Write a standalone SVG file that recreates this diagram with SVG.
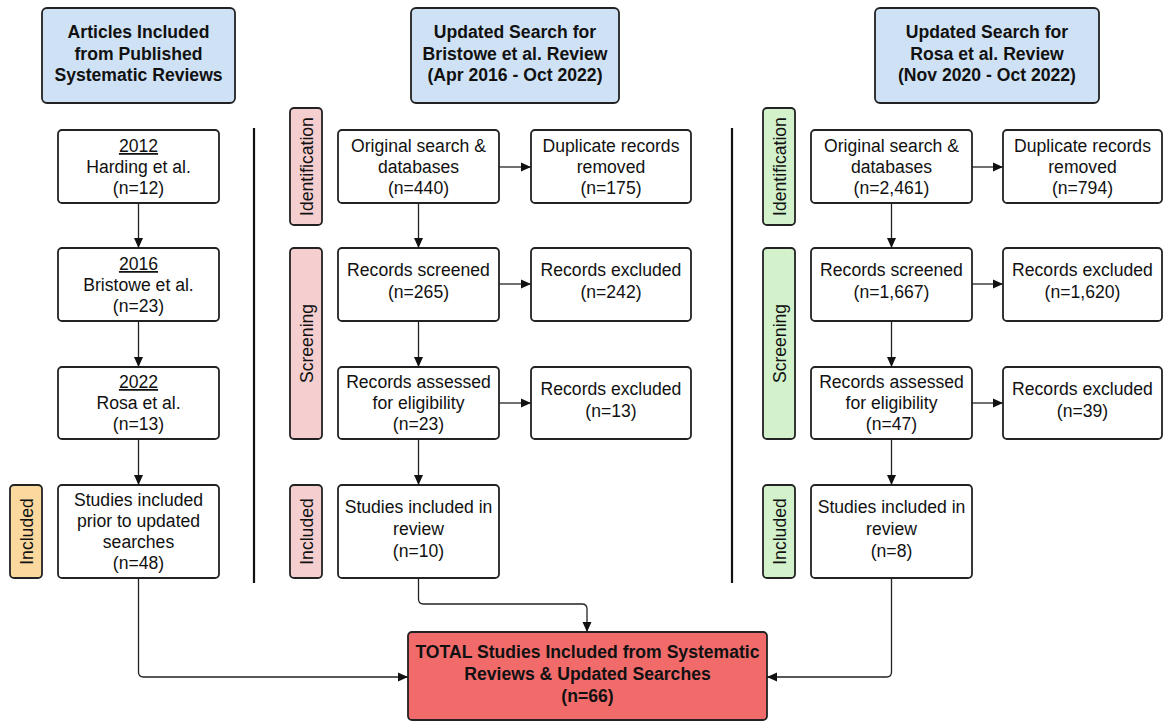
<svg xmlns="http://www.w3.org/2000/svg" width="1163" height="721" viewBox="0 0 1163 721">
<style>
text{font-family:"Liberation Sans",Arial,sans-serif;font-size:17.6px;fill:#111;text-anchor:middle}
.b{font-weight:bold}
.box{fill:#fff;stroke:#222;stroke-width:1.8}
.hdr{fill:#cfe2f5;stroke:#222;stroke-width:1.8}
.pink{fill:#f5cfcf;stroke:#222;stroke-width:1.8}
.green{fill:#d3f2cc;stroke:#222;stroke-width:1.8}
.orange{fill:#fbd89e;stroke:#222;stroke-width:1.8}
.total{fill:#f26b6b;stroke:#222;stroke-width:1.8}
.c{fill:none;stroke:#222;stroke-width:1.3}
.div{stroke:#111;stroke-width:2.2}
</style>
<defs>
<marker id="ah" viewBox="0 0 10 10" refX="10" refY="5" markerWidth="10" markerHeight="10" markerUnits="userSpaceOnUse" orient="auto"><path d="M0,0.5 L10,5 L0,9.5 Z" fill="#111"/></marker>
</defs>

<g id="hdr-left"><rect class="hdr" x="42" y="8" width="193" height="95" rx="5"/>
<text class="b" x="138.5" y="38">Articles Included</text><text class="b" x="138.5" y="59.5">from Published</text><text class="b" x="138.5" y="81">Systematic Reviews</text></g>
<g id="hdr-mid"><rect class="hdr" x="411" y="8" width="208" height="95" rx="5"/>
<text class="b" x="515" y="38">Updated Search for</text><text class="b" x="515" y="59.5">Bristowe et al. Review</text><text class="b" x="515" y="81">(Apr 2016 - Oct 2022)</text></g>
<g id="hdr-right"><rect class="hdr" x="875" y="8" width="224" height="95" rx="5"/>
<text class="b" x="987" y="38">Updated Search for</text><text class="b" x="987" y="59.5">Rosa et al. Review</text><text class="b" x="987" y="81">(Nov 2020 - Oct 2022)</text></g>

<g id="dividers"><line class="div" x1="254" y1="128" x2="254" y2="583"/><line class="div" x1="732" y1="128" x2="732" y2="583"/></g>

<!-- left column -->
<g id="l1"><rect class="box" x="58" y="130" width="161" height="73" rx="4"/>
<text x="138.5" y="152" text-decoration="underline">2012</text><text x="138.5" y="173">Harding et al.</text><text x="138.5" y="194">(n=12)</text></g>
<g id="l2"><rect class="box" x="58" y="248" width="161" height="73" rx="4"/>
<text x="138.5" y="270" text-decoration="underline">2016</text><text x="138.5" y="291">Bristowe et al.</text><text x="138.5" y="312">(n=23)</text></g>
<g id="l3"><rect class="box" x="58" y="367" width="161" height="72" rx="4"/>
<text x="138.5" y="388" text-decoration="underline">2022</text><text x="138.5" y="409">Rosa et al.</text><text x="138.5" y="430">(n=13)</text></g>
<g id="l4"><rect class="box" x="58" y="485" width="161" height="93" rx="4"/>
<text x="138.5" y="506">Studies included</text><text x="138.5" y="527">prior to updated</text><text x="138.5" y="548">searches</text><text x="138.5" y="569">(n=48)</text></g>
<g id="lab-l-incl"><rect class="orange" x="10" y="485" width="32" height="93" rx="4"/><text transform="translate(32.5,531.5) rotate(-90)">Included</text></g>

<!-- middle column -->
<g id="lab-m-id"><rect class="pink" x="290" y="108" width="32" height="117" rx="4"/><text transform="translate(312.5,166.5) rotate(-90)">Identification</text></g>
<g id="lab-m-scr"><rect class="pink" x="290" y="248" width="32" height="191" rx="4"/><text transform="translate(312.5,343.5) rotate(-90)">Screening</text></g>
<g id="lab-m-incl"><rect class="pink" x="290" y="485" width="32" height="93" rx="4"/><text transform="translate(312.5,531.5) rotate(-90)">Included</text></g>
<g id="m1"><rect class="box" x="338" y="130" width="161" height="73" rx="4"/>
<text x="418.5" y="152">Original search &amp;</text><text x="418.5" y="173">databases</text><text x="418.5" y="194">(n=440)</text></g>
<g id="m1x"><rect class="box" x="531" y="130" width="160" height="73" rx="4"/>
<text x="611" y="152">Duplicate records</text><text x="611" y="173">removed</text><text x="611" y="194">(n=175)</text></g>
<g id="m2"><rect class="box" x="338" y="248" width="161" height="73" rx="4"/>
<text x="418.5" y="276">Records screened</text><text x="418.5" y="298">(n=265)</text></g>
<g id="m2x"><rect class="box" x="531" y="248" width="160" height="73" rx="4"/>
<text x="611" y="276">Records excluded</text><text x="611" y="298">(n=242)</text></g>
<g id="m3"><rect class="box" x="338" y="367" width="161" height="72" rx="4"/>
<text x="418.5" y="388">Records assessed</text><text x="418.5" y="409">for eligibility</text><text x="418.5" y="430">(n=23)</text></g>
<g id="m3x"><rect class="box" x="531" y="367" width="160" height="72" rx="4"/>
<text x="611" y="395">Records excluded</text><text x="611" y="417">(n=13)</text></g>
<g id="m4"><rect class="box" x="338" y="485" width="161" height="93" rx="4"/>
<text x="418.5" y="513">Studies included in</text><text x="418.5" y="535">review</text><text x="418.5" y="557">(n=10)</text></g>

<!-- right column -->
<g id="lab-r-id"><rect class="green" x="763" y="108" width="32" height="117" rx="4"/><text transform="translate(785.5,166.5) rotate(-90)">Identification</text></g>
<g id="lab-r-scr"><rect class="green" x="763" y="248" width="32" height="191" rx="4"/><text transform="translate(785.5,343.5) rotate(-90)">Screening</text></g>
<g id="lab-r-incl"><rect class="green" x="763" y="485" width="32" height="93" rx="4"/><text transform="translate(785.5,531.5) rotate(-90)">Included</text></g>
<g id="r1"><rect class="box" x="811" y="130" width="161" height="73" rx="4"/>
<text x="891.5" y="152">Original search &amp;</text><text x="891.5" y="173">databases</text><text x="891.5" y="194">(n=2,461)</text></g>
<g id="r1x"><rect class="box" x="1003" y="130" width="159" height="73" rx="4"/>
<text x="1082.5" y="152">Duplicate records</text><text x="1082.5" y="173">removed</text><text x="1082.5" y="194">(n=794)</text></g>
<g id="r2"><rect class="box" x="811" y="248" width="161" height="73" rx="4"/>
<text x="891.5" y="276">Records screened</text><text x="891.5" y="298">(n=1,667)</text></g>
<g id="r2x"><rect class="box" x="1003" y="248" width="159" height="73" rx="4"/>
<text x="1082.5" y="276">Records excluded</text><text x="1082.5" y="298">(n=1,620)</text></g>
<g id="r3"><rect class="box" x="811" y="367" width="161" height="72" rx="4"/>
<text x="891.5" y="388">Records assessed</text><text x="891.5" y="409">for eligibility</text><text x="891.5" y="430">(n=47)</text></g>
<g id="r3x"><rect class="box" x="1003" y="367" width="159" height="72" rx="4"/>
<text x="1082.5" y="395">Records excluded</text><text x="1082.5" y="417">(n=39)</text></g>
<g id="r4"><rect class="box" x="811" y="485" width="161" height="93" rx="4"/>
<text x="891.5" y="513">Studies included in</text><text x="891.5" y="535">review</text><text x="891.5" y="557">(n=8)</text></g>

<g id="total"><rect class="total" x="408" y="632" width="359" height="88" rx="4"/>
<text class="b" x="587.5" y="658">TOTAL Studies Included from Systematic</text><text class="b" x="587.5" y="680">Reviews &amp; Updated Searches</text><text class="b" x="587.5" y="702">(n=66)</text></g>

<g id="connectors">
<path class="c" marker-end="url(#ah)" d="M138.5,203 V248"/>
<path class="c" marker-end="url(#ah)" d="M138.5,321 V367"/>
<path class="c" marker-end="url(#ah)" d="M138.5,439 V485"/>
<path class="c" marker-end="url(#ah)" d="M418.5,203 V248"/>
<path class="c" marker-end="url(#ah)" d="M418.5,321 V367"/>
<path class="c" marker-end="url(#ah)" d="M418.5,439 V485"/>
<path class="c" marker-end="url(#ah)" d="M891.5,203 V248"/>
<path class="c" marker-end="url(#ah)" d="M891.5,321 V367"/>
<path class="c" marker-end="url(#ah)" d="M891.5,439 V485"/>
<path class="c" marker-end="url(#ah)" d="M499,167 H531"/>
<path class="c" marker-end="url(#ah)" d="M499,284 H531"/>
<path class="c" marker-end="url(#ah)" d="M499,403 H531"/>
<path class="c" marker-end="url(#ah)" d="M972,167 H1003"/>
<path class="c" marker-end="url(#ah)" d="M972,284 H1003"/>
<path class="c" marker-end="url(#ah)" d="M972,403 H1003"/>
<path class="c" marker-end="url(#ah)" d="M138.5,578 V672 Q138.5,677 143.5,677 H408"/>
<path class="c" marker-end="url(#ah)" d="M891.5,578 V672 Q891.5,677 886.5,677 H767"/>
<path class="c" marker-end="url(#ah)" d="M418.5,578 V599 Q418.5,604 423.5,604 H582 Q587,604 587,609 V632"/>
</g>
</svg>
